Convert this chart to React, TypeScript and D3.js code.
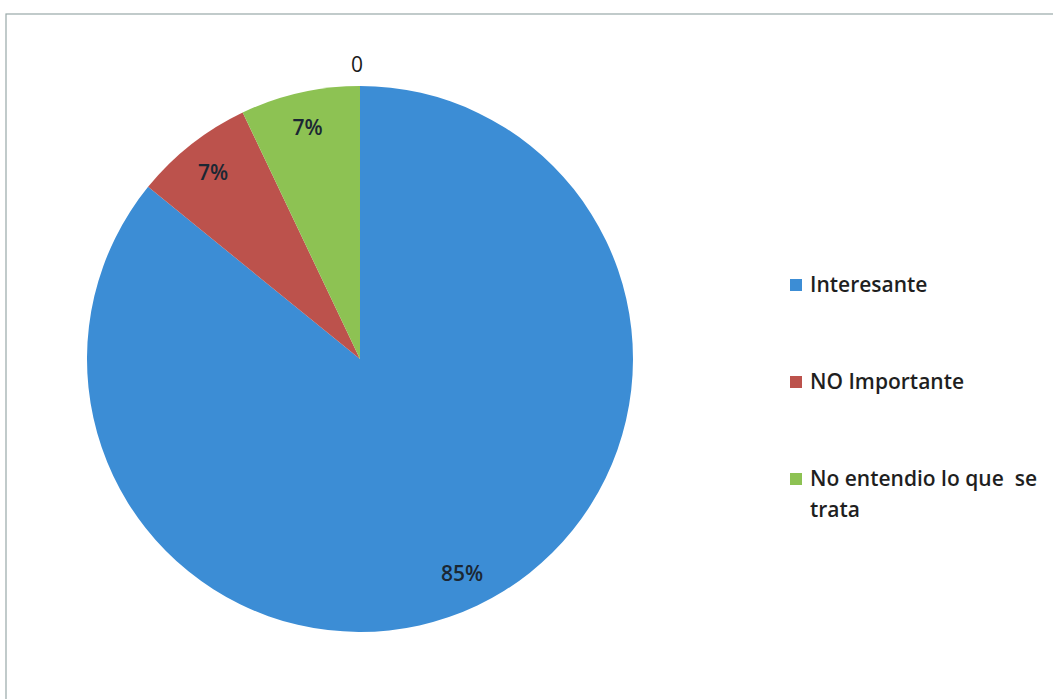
import React from "react";
import * as d3 from "d3";

const categories = ["Interesante", "NO Importante", "No entendio lo que  se trata"];
const legendLines = [["Interesante"], ["NO Importante"], ["No entendio lo que  se", "trata"]];
const values = [85, 7, 7];
const valueLabels = ["85%", "7%", "7%"];
const colors = ["#3C8DD5", "#BC524C", "#8DC253"];
const titleText = "0";

const W = 1053;
const H = 699;
const cx = 360;
const cy = 359;
const R = 273;
const FONT = "'Open Sans', Lato, sans-serif";

export default function App() {
  const pie = d3.pie<number>().sort(null).value((d) => d).startAngle(0).endAngle(2 * Math.PI);
  const arcs = pie(values);
  const arcGen = d3.arc<d3.PieArcDatum<number>>().innerRadius(0).outerRadius(R);
  const labelArc = d3.arc<d3.PieArcDatum<number>>().innerRadius(R * 0.87).outerRadius(R * 0.87);
  const legendY = d3.scalePoint<string>().domain(categories).range([285, 479]);

  return (
    <svg width={W} height={H} style={{ position: "absolute", left: 0, top: 0, background: "#fff" }}>
      <rect x={6} y={14} width={W + 20} height={H + 20} fill="#fff" stroke="#98a8a8" strokeWidth={1.2} />
      <text x={cx - 3} y={72} textAnchor="middle" fontFamily={FONT} fontSize={21} fill="#1a1a1a">
        {titleText}
      </text>
      <g transform={`translate(${cx},${cy})`}>
        {arcs.map((a, i) => (
          <path key={i} d={arcGen(a) || ""} fill={colors[i]} />
        ))}
        {arcs.map((a, i) => {
          const [x, y] = labelArc.centroid(a);
          return (
            <text key={i} x={x} y={y} textAnchor="middle" dominantBaseline="central" fontFamily={FONT} fontSize={21} fontWeight={600} fill="#1b2733">
              {valueLabels[i]}
            </text>
          );
        })}
      </g>
      {categories.map((c, i) => {
        const y = legendY(c) as number;
        return (
          <g key={c}>
            <rect x={790} y={y - 6} width={12} height={12} fill={colors[i]} />
            {legendLines[i].map((line, j) => (
              <text key={j} x={810} y={y + 7 + j * 31} fontFamily={FONT} fontSize={21} fontWeight={600} fill="#1f1f1f" style={{ whiteSpace: "pre" }}>
                {line}
              </text>
            ))}
          </g>
        );
      })}
    </svg>
  );
}
